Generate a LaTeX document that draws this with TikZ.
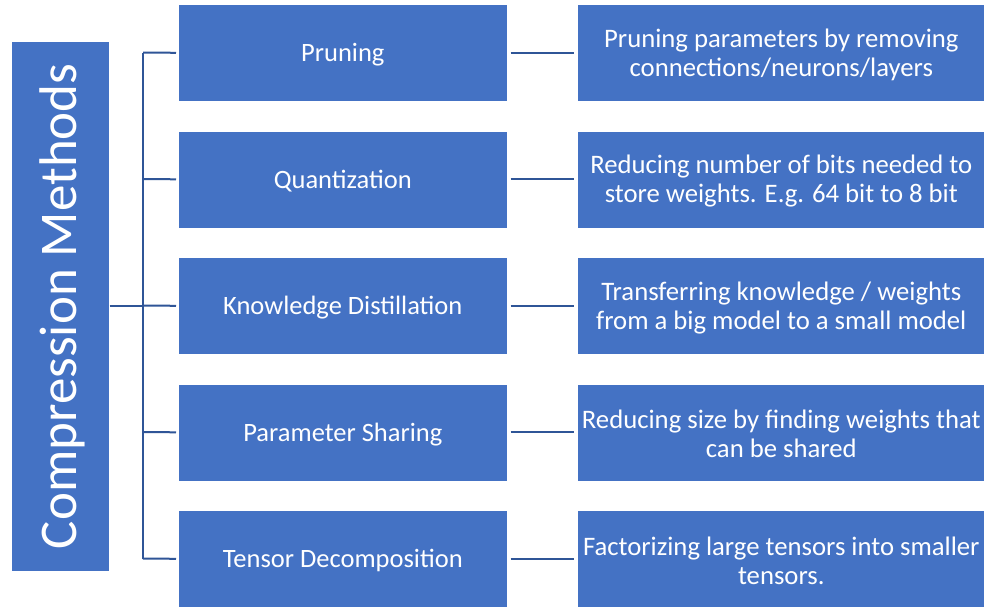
\documentclass[tikz,border=0pt]{standalone}
\usepackage{fontspec}
\setmainfont{Carlito}
\definecolor{boxblue}{HTML}{4472C4}
\definecolor{lineblue}{HTML}{2F5597}
\begin{document}
\begin{tikzpicture}[x=1pt,y=-1pt,
  box/.style={fill=boxblue,draw=white,line width=0.6pt,inner sep=0pt},
  txt/.style={text=white,align=center,inner sep=0pt},
  conn/.style={draw=lineblue,line width=2pt}]
\useasboundingbox[fill=white] (0,0) rectangle (984,608);
\node[box,minimum width=98,minimum height=530,anchor=north west] (root) at (11,41) {};
\node[txt,rotate=90,font=\fontsize{53}{58}\selectfont] (roott) at ([xshift=2]root.center) {Compression Methods};
\foreach \i/\t/\d [count=\k] in {
  0/Pruning/{Pruning parameters by removing\\connections/neurons/layers},
  1/Quantization/{Reducing number of bits needed to\\store weights. E.g. 64 bit to 8 bit},
  2/Knowledge Distillation/{Transferring knowledge / weights\\from a big model to a small model},
  3/Parameter Sharing/{Reducing size by finding weights that\\can be shared},
  4/Tensor Decomposition/{Factorizing large tensors into smaller\\tensors.}}{
  \node[box,minimum width=329,minimum height=97,anchor=north west] (m\k) at (178,{4+126.5*\i}) {};
  \node[txt,font=\fontsize{26.5}{30}\selectfont] (mt\k) at ([yshift=-2]m\k.center) {\t};
  \node[box,minimum width=408,minimum height=97,anchor=north west] (r\k) at (577,{4+126.5*\i}) {};
  \node[txt,font=\fontsize{26.7}{29}\selectfont] (rt\k) at ([yshift=-2]r\k.center) {\d};
  \draw[conn] ([xshift=3]m\k.east) -- ([xshift=-3]r\k.east -| r\k.west);
  \coordinate (b\k) at (143,{52.5+126.5*\i});
  \draw[conn] (b\k) -- ([xshift=-2]m\k.west);
}
\draw[conn] (b1) -- (b5);
\coordinate (bm) at (143,306);
\draw[conn] (root.east |- bm) -- (bm);
\end{tikzpicture}
\end{document}
